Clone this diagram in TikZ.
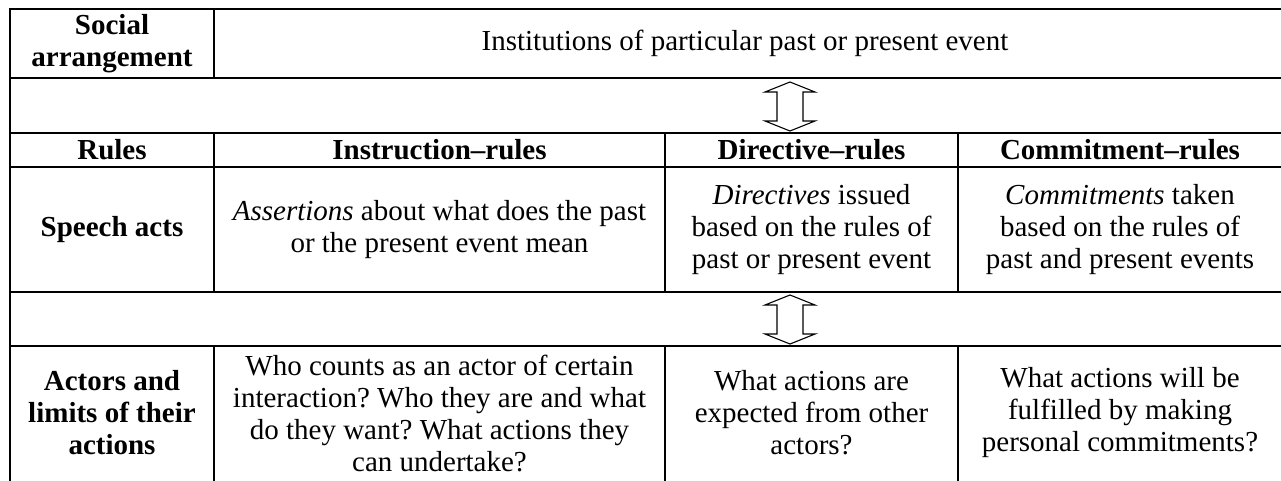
\documentclass[tikz,border=0pt]{standalone}
\usepackage{fontspec}
\setmainfont{Liberation Serif}
\frenchspacing
\begin{document}
\begin{tikzpicture}[x=1pt,y=-1pt,
  cell/.style={align=center, inner sep=0pt, font=\fontsize{29}{32}\selectfont\frenchspacing},
  hd/.style={align=center, inner sep=0pt, font=\fontsize{29}{32}\selectfont\bfseries\frenchspacing},
  thickrule/.style={line width=2.6pt},
  thinrule/.style={line width=1.6pt},
  arrowshape/.style={draw, line width=1.1pt, fill=white, line join=miter}]
\useasboundingbox (0,0) rectangle (1281,481);
% horizontal rules
\draw[thickrule] (9.2,9) -- (1290,9);
\draw[thickrule] (9.2,78) -- (1290,78);
\draw[thickrule] (9.2,133) -- (1290,133);
\draw[thinrule] (9.2,167) -- (1290,167);
\draw[thickrule] (9.2,292) -- (1290,292);
\draw[thickrule] (9.2,346) -- (1290,346);
% vertical rules
\draw[thinrule] (10,9) -- (10,495);
\draw[thinrule] (214,9) -- (214,78);
\draw[thinrule] (214,133) -- (214,292);
\draw[thinrule] (214,346) -- (214,495);
\draw[thinrule] (665,133) -- (665,292);
\draw[thinrule] (665,346) -- (665,495);
\draw[thinrule] (958,133) -- (958,292);
\draw[thinrule] (958,346) -- (958,495);
% row 1
\node[hd] (sa) at (112,43.5) {Social\\arrangement};
\node[cell] (inst) at (745,43.5) {Institutions of particular past or present event};
% arrows
\coordinate (a1) at (790,106.5);
\coordinate (a2) at (790,319.5);
\foreach \c in {a1,a2}{
  \draw[arrowshape, shift={(\c)}] (0,-24.5) -- (25,-14.5) -- (13,-14.5) -- (13,14.5) -- (25,14.5) -- (0,24.5) -- (-25,14.5) -- (-13,14.5) -- (-13,-14.5) -- (-25,-14.5) -- cycle;
}
% header row
\node[hd] (rules) at (112,150) {Rules};
\node[hd] (instr) at (439.5,150) {Instruction–rules};
\node[hd] (dir) at (811.5,150) {Directive–rules};
\node[hd] (com) at (1120,150) {Commitment–rules};
% speech acts row
\node[hd] (sp) at (112,229.5) {Speech acts};
\node[cell] (ass) at (439.5,229.5) {\textit{Assertions} about what does the past\\or the present event mean};
\node[cell] (dirs) at (811.5,229.5) {\textit{Directives} issued\\based on the rules of\\past or present event};
\node[cell] (coms) at (1120,229.5) {\textit{Commitments} taken\\based on the rules of\\past and present events};
% actors row
\node[hd] (act) at (112,413) {Actors and\\limits of their\\actions};
\node[cell] (who) at (439.5,413) {Who counts as an actor of certain\\interaction? Who they are and what\\do they want? What actions they\\can undertake?};
\node[cell] (exp) at (811.5,413) {What actions are\\expected from other\\actors?};
\node[cell] (ful) at (1120,413) {What actions will be\\fulfilled by making\\personal commitments?};
\end{tikzpicture}
\end{document}
